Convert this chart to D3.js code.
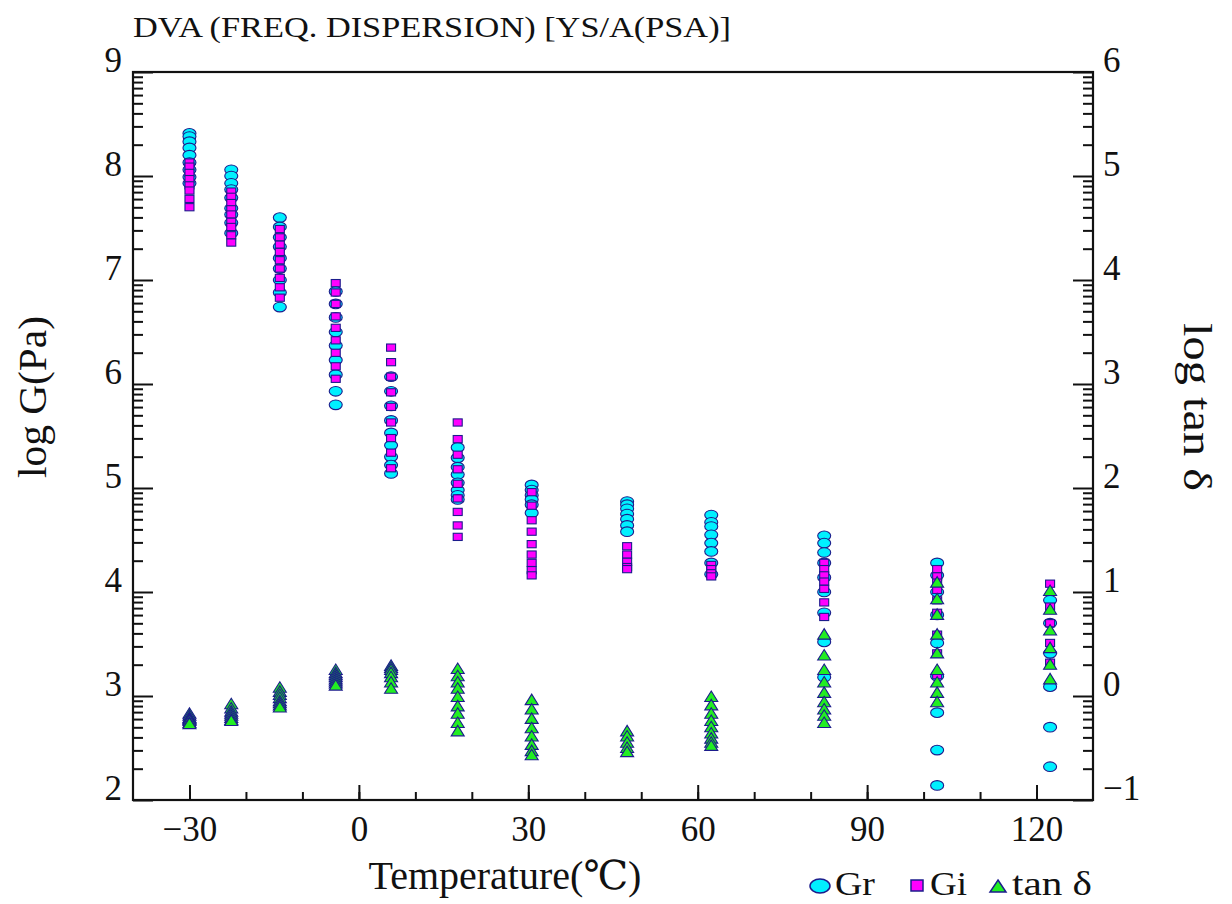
<!DOCTYPE html>
<html>
<head>
<meta charset="utf-8">
<script src="https://cdn.jsdelivr.net/npm/d3@7"></script>
<style>
  body { margin: 0; background: #fff; }
  text { font-family: "Liberation Serif", "DejaVu Serif", "Noto Sans CJK JP", serif; fill: #111; }
</style>
</head>
<body>
<div id="chart"></div>
<script>
// temperatures of each frequency sweep (deg C)
let temps = [-30, -22.6, -14, -4.1, 5.7, 17.5, 30.6, 47.5, 62.4, 82.4, 102.4, 122.4];

// log G' (Gr) per temperature
let grValues = [
  [8.41, 8.38, 8.33, 8.27, 8.20, 8.13, 8.06, 7.99, 7.93],
  [8.06, 8.00, 7.93, 7.87, 7.79, 7.69, 7.63, 7.55, 7.45],
  [7.60, 7.51, 7.41, 7.32, 7.21, 7.11, 7.00, 6.88, 6.74],
  [6.89, 6.77, 6.64, 6.50, 6.37, 6.23, 6.09, 5.93, 5.80],
  [6.07, 5.93, 5.79, 5.65, 5.53, 5.41, 5.30, 5.22, 5.14],
  [5.39, 5.29, 5.20, 5.13, 5.05, 4.98, 4.93, 4.89],
  [5.03, 4.98, 4.93, 4.89, 4.84, 4.76],
  [4.87, 4.84, 4.80, 4.75, 4.70, 4.64, 4.58],
  [4.74, 4.67, 4.63, 4.55, 4.47, 4.39, 4.28, 4.17],
  [4.54, 4.47, 4.38, 4.28, 4.14, 4.00, 3.80, 3.52, 3.18],
  [4.28, 4.16, 4.00, 3.78, 3.51, 3.19, 2.84, 2.48, 2.14],
  [3.92, 3.70, 3.41, 3.09, 2.70, 2.32]
];

// log G'' (Gi) per temperature
let giValues = [
  [8.13, 8.09, 8.03, 7.97, 7.91, 7.86, 7.78, 7.70],
  [7.85, 7.80, 7.74, 7.68, 7.63, 7.56, 7.51, 7.43, 7.36],
  [7.49, 7.41, 7.34, 7.27, 7.19, 7.11, 7.02, 6.93, 6.83],
  [6.97, 6.88, 6.77, 6.65, 6.54, 6.42, 6.30, 6.17, 6.05],
  [6.35, 6.21, 6.07, 5.92, 5.78, 5.63, 5.48, 5.34, 5.19],
  [5.63, 5.47, 5.32, 5.18, 5.04, 4.90, 4.77, 4.64, 4.53],
  [4.96, 4.83, 4.69, 4.58, 4.46, 4.36, 4.28, 4.21, 4.16],
  [4.44, 4.36, 4.29, 4.24, 4.22],
  [4.26, 4.22, 4.18, 4.15],
  [4.28, 4.22, 4.16, 4.10, 4.03, 3.90, 3.76],
  [4.22, 4.15, 4.09, 4.02, 3.92, 3.80, 3.59, 3.41, 3.20],
  [4.08, 3.86, 3.70, 3.51, 3.32]
];

// log tan delta per temperature (right axis)
let tanValues = [
  [-0.17, -0.19, -0.21, -0.22, -0.23, -0.24, -0.26, -0.27],
  [-0.08, -0.12, -0.15, -0.17, -0.19, -0.21, -0.23, -0.24],
  [0.08, 0.04, 0.01, -0.02, -0.05, -0.07, -0.09, -0.11],
  [0.25, 0.22, 0.20, 0.18, 0.16, 0.14, 0.12, 0.10],
  [0.29, 0.27, 0.25, 0.22, 0.18, 0.13, 0.07],
  [0.26, 0.19, 0.13, 0.07, -0.01, -0.10, -0.17, -0.26, -0.34],
  [-0.04, -0.13, -0.22, -0.31, -0.39, -0.47, -0.53, -0.57],
  [-0.34, -0.39, -0.45, -0.50, -0.54],
  [-0.01, -0.09, -0.17, -0.24, -0.30, -0.36, -0.41, -0.45, -0.48],
  [0.59, 0.39, 0.25, 0.13, 0.03, -0.06, -0.13, -0.19, -0.26],
  [1.09, 0.93, 0.78, 0.59, 0.41, 0.25, 0.13, 0.03, -0.06],
  [1.01, 0.83, 0.63, 0.46, 0.30, 0.16]
];

let xTicks = [-30, 0, 30, 60, 90, 120];
let leftTicks = [2, 3, 4, 5, 6, 7, 8, 9];
let rightTicks = [-1, 0, 1, 2, 3, 4, 5, 6];

//Options
let W = 1232, H = 904;
let plotL = 133, plotR = 1093, plotT = 72, plotB = 800;
let lineCol = "#111";
let edge = "#1c1c8c";
let tickFont = "35px";

let svg = d3.select("#chart").append("svg")
    .attr("width", W)
    .attr("height", H);

let x = d3.scaleLinear().domain([-40, 130]).range([plotL, plotR]);
let yL = d3.scaleLinear().domain([2, 9]).range([plotB, plotT]);
let yR = d3.scaleLinear().domain([-1, 6]).range([plotB, plotT]);
let intFmt = d3.format("d");

// log-style minor ticks inside each decade
function logMinor(lo, hi) {
  let out = [];
  for (let n = lo; n < hi; n++)
    for (let k = 2; k <= 9; k++) out.push(n + Math.log10(k));
  return out;
}

function styleAxis(g) {
  g.select(".domain").remove();
  g.selectAll(".tick line").attr("stroke", lineCol).attr("stroke-width", 2);
  g.selectAll("text").style("font-size", tickFont).attr("fill", "#111");
}

// bottom axis
svg.append("g").attr("transform", `translate(0,${plotB})`)
  .call(d3.axisBottom(x).tickValues(d3.range(-30, 130, 10)).tickSize(-8).tickFormat(""))
  .call(styleAxis);
svg.append("g").attr("transform", `translate(0,${plotB})`)
  .call(d3.axisBottom(x).tickValues(xTicks).tickSize(-15).tickPadding(16).tickFormat(intFmt))
  .call(styleAxis)
  .selectAll("text").attr("dy", "0.71em");

// left axis
svg.append("g").attr("transform", `translate(${plotL},0)`)
  .call(d3.axisLeft(yL).tickValues(logMinor(2, 9)).tickSize(-10).tickFormat(""))
  .call(styleAxis);
svg.append("g").attr("transform", `translate(${plotL},0)`)
  .call(d3.axisLeft(yL).tickValues(leftTicks).tickSize(-20).tickPadding(11).tickFormat(intFmt))
  .call(styleAxis)
  .selectAll("text").attr("dy", "-0.02em");

// right axis
svg.append("g").attr("transform", `translate(${plotR},0)`)
  .call(d3.axisRight(yR).tickValues(logMinor(-1, 6)).tickSize(-10).tickFormat(""))
  .call(styleAxis);
svg.append("g").attr("transform", `translate(${plotR},0)`)
  .call(d3.axisRight(yR).tickValues(rightTicks).tickSize(-20).tickPadding(10).tickFormat(intFmt))
  .call(styleAxis)
  .selectAll("text").attr("dy", "-0.02em");

// frame
svg.append("rect")
  .attr("x", plotL).attr("y", plotT)
  .attr("width", plotR - plotL).attr("height", plotB - plotT)
  .attr("fill", "none").attr("stroke", lineCol).attr("stroke-width", 2.2);

// flatten the sweeps into points
function flat(vals) {
  let pts = [];
  vals.forEach((arr, i) => arr.forEach(v => pts.push({t: temps[i], v: v})));
  return pts;
}

let plot = svg.append("g").attr("id", "points");

plot.append("g").selectAll("ellipse")
  .data(flat(grValues)).enter().append("ellipse")
    .attr("cx", d => x(d.t)).attr("cy", d => yL(d.v))
    .attr("rx", 6.5).attr("ry", 4.8)
    .attr("fill", "#00f0ff").attr("stroke", edge).attr("stroke-width", 1.1);

plot.append("g").selectAll("rect")
  .data(flat(giValues)).enter().append("rect")
    .attr("x", d => x(d.t) - 4.5).attr("y", d => yL(d.v) - 3.6)
    .attr("width", 9).attr("height", 7.2)
    .attr("fill", "#ff00ff").attr("stroke", edge).attr("stroke-width", 1.1);

let tri = "M0,-6L6.5,4.5L-6.5,4.5Z";
plot.append("g").selectAll("path")
  .data(flat(tanValues)).enter().append("path")
    .attr("d", tri)
    .attr("transform", d => `translate(${x(d.t)},${yR(d.v)})`)
    .attr("fill", "#22ee22").attr("stroke", edge).attr("stroke-width", 1.1);

// titles
svg.append("text")
  .attr("x", 133).attr("y", 37)
  .style("font-size", "29px").attr("fill", "#333")
  .attr("textLength", 598).attr("lengthAdjust", "spacingAndGlyphs")
  .text("DVA (FREQ. DISPERSION) [YS/A(PSA)]");

svg.append("text")
  .attr("x", 505).attr("y", 889)
  .attr("text-anchor", "middle")
  .style("font-size", "40px")
  .text("Temperature(℃)");

svg.append("text")
  .attr("transform", "translate(46,397) rotate(-90)")
  .attr("text-anchor", "middle")
  .style("font-size", "40px")
  .attr("textLength", 162).attr("lengthAdjust", "spacingAndGlyphs")
  .text("log G(Pa)");

svg.append("text")
  .attr("transform", "translate(1184,407) rotate(90)")
  .attr("text-anchor", "middle")
  .style("font-size", "40px")
  .attr("textLength", 168).attr("lengthAdjust", "spacingAndGlyphs")
  .text("log tan δ");

// legend
let lg = svg.append("g").attr("id", "legend");
lg.append("ellipse").attr("cx", 820).attr("cy", 886).attr("rx", 10).attr("ry", 7)
  .attr("fill", "#00f0ff").attr("stroke", edge).attr("stroke-width", 1.5);
lg.append("text").attr("x", 835).attr("y", 895).style("font-size", "34px")
  .attr("textLength", 40).attr("lengthAdjust", "spacingAndGlyphs").text("Gr");
lg.append("rect").attr("x", 911).attr("y", 880).attr("width", 12).attr("height", 11)
  .attr("fill", "#ff00ff").attr("stroke", edge).attr("stroke-width", 1.5);
lg.append("text").attr("x", 930).attr("y", 895).style("font-size", "34px")
  .attr("textLength", 37).attr("lengthAdjust", "spacingAndGlyphs").text("Gi");
lg.append("path").attr("d", "M0,-7L8,5L-8,5Z").attr("transform", "translate(998,887)")
  .attr("fill", "#22ee22").attr("stroke", edge).attr("stroke-width", 1.5);
lg.append("text").attr("x", 1012).attr("y", 895).style("font-size", "34px")
  .attr("textLength", 80).attr("lengthAdjust", "spacingAndGlyphs").text("tan δ");
</script>
</body>
</html>
